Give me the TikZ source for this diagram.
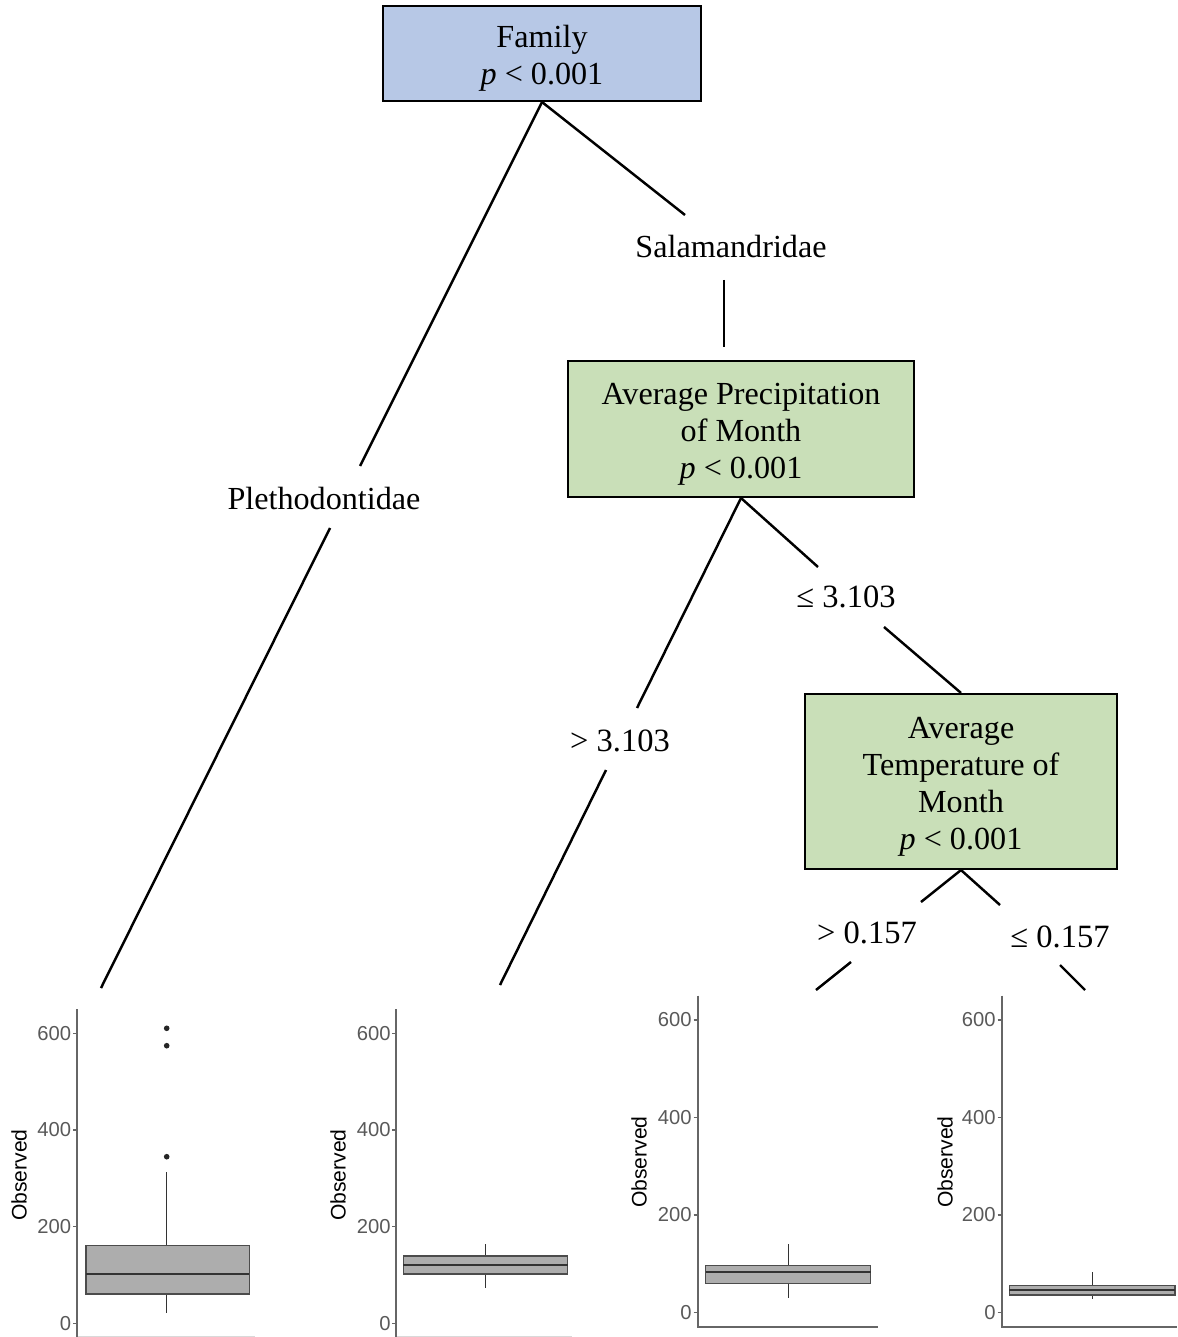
\documentclass[tikz,border=0pt]{standalone}
\usepackage{fontspec}
\setmainfont{Liberation Serif}
\setsansfont{Liberation Sans}
\definecolor{famblue}{HTML}{B7C8E6}
\definecolor{nodegreen}{HTML}{C9DFB8}
\newcommand{\mytopgap}{\rule{0pt}{18.5pt}}
\begin{document}
\begin{tikzpicture}[x=0.02cm,y=-0.02cm,
  treebox/.style={draw=black,line width=1.2pt,align=center,font=\fontsize{18.3}{21}\selectfont,inner sep=0pt},
  edgelab/.style={font=\fontsize{18.5}{22}\selectfont,inner sep=1pt},
  famlab/.style={font=\fontsize{18.3}{21}\selectfont,inner sep=1pt},
  branch/.style={line width=1.4pt,black},
  axisln/.style={draw=black!60,line width=1.1pt},
  tickln/.style={draw=black!60,line width=0.8pt},
  ticklab/.style={font=\sffamily\fontsize{11.5}{13}\selectfont,text=black!65,anchor=east,inner sep=0pt},
  ylab/.style={font=\sffamily\fontsize{12}{14}\selectfont,rotate=90,inner sep=0pt},
  bxfill/.style={fill=black!32,draw=black!70,line width=0.8pt},
  medln/.style={draw=black!80,line width=1.3pt},
  whisk/.style={draw=black!80,line width=0.7pt},
  outl/.style={fill=black!85}]
\useasboundingbox (0,0) rectangle (1177,1337);

% tree nodes
\node[treebox,fill=famblue,minimum width=6.36cm,minimum height=1.9cm] (fam) at (542,53.5) {\mytopgap Family\\\textit{p} < 0.001};
\node[treebox,fill=nodegreen,minimum width=6.92cm,minimum height=2.72cm] (pre) at (741,429) {\mytopgap Average Precipitation\\of Month\\\textit{p} < 0.001};
\node[treebox,fill=nodegreen,minimum width=6.24cm,minimum height=3.5cm] (tmp) at (961,781.5) {\mytopgap Average\\Temperature of\\Month\\\textit{p} < 0.001};

% edge labels
\node[famlab] (pleth) at (324,499) {Plethodontidae};
\node[famlab] (salam) at (731,247) {Salamandridae};
\node[edgelab] (gtp) at (620,741) {> 3.103};
\node[edgelab] (lep) at (846,597) {≤ 3.103};
\node[edgelab] (gtt) at (867,933) {> 0.157};
\node[edgelab] (let) at (1060,937) {≤ 0.157};

% connector gap coordinates
\coordinate (a1) at (360,466); \coordinate (a2) at (330,528); \coordinate (p1top) at (101,988);
\coordinate (b1) at (685,215); \coordinate (b2) at (724,280); \coordinate (b3) at (724,347);
\coordinate (c1) at (637,708); \coordinate (c2) at (606,770); \coordinate (p2top) at (500,985);
\coordinate (d1) at (818,567); \coordinate (d2) at (884,627);
\coordinate (e1) at (921,902); \coordinate (e2) at (851,962); \coordinate (p3top) at (816,990);
\coordinate (f1) at (1000,905); \coordinate (f2) at (1060,965); \coordinate (p4top) at (1085,990);

\draw[branch] (fam.south) -- (a1);
\draw[branch] (a2) -- (p1top);
\draw[branch] (fam.south) -- (b1);
\draw[branch] (b2) -- (b3);
\draw[branch] (pre.south) -- (c1);
\draw[branch] (c2) -- (p2top);
\draw[branch] (pre.south) -- (d1);
\draw[branch] (d2) -- (tmp.north);
\draw[branch] (tmp.south) -- (e1);
\draw[branch] (e2) -- (p3top);
\draw[branch] (tmp.south) -- (f1);
\draw[branch] (f2) -- (p4top);

% ---------- plot 1 ----------
\draw[black!15,line width=0.6pt] (77,1336.5) -- (255,1336.5);
\draw[axisln] (77,1009) -- (77,1337);
\foreach \yy/\lab in {1033.2/600,1130/400,1226.7/200,1323.3/0}{
  \draw[tickln] (73,\yy) -- (77,\yy);
  \node[ticklab] at (71.5,\yy) {\lab};}
\node[ylab] (yl1) at (19,1175) {Observed};
\draw[whisk] (166.7,1172) -- (166.7,1245.7);
\draw[whisk] (166.7,1294) -- (166.7,1312.7);
\draw[bxfill] (86,1245.7) rectangle (249.3,1294);
\draw[medln] (86,1274.3) -- (249.3,1274.3);
\fill[outl] (166.7,1028.3) circle (1.6pt);
\fill[outl] (166.7,1045.7) circle (1.6pt);
\fill[outl] (166.7,1156.7) circle (1.6pt);

% ---------- plot 2 ----------
\draw[black!15,line width=0.6pt] (396,1336.5) -- (572,1336.5);
\draw[axisln] (396,1009) -- (396,1337);
\foreach \yy/\lab in {1033.2/600,1130/400,1226.7/200,1323.3/0}{
  \draw[tickln] (392,\yy) -- (396,\yy);
  \node[ticklab] at (391,\yy) {\lab};}
\node[ylab] (yl2) at (338,1175) {Observed};
\draw[whisk] (485.7,1244) -- (485.7,1256);
\draw[whisk] (485.7,1274) -- (485.7,1288.3);
\draw[bxfill] (403.3,1256) rectangle (567.7,1274);
\draw[medln] (403.3,1265.3) -- (567.7,1265.3);

% ---------- plot 3 ----------
\draw[axisln] (697.7,995.7) -- (697.7,1327.3) -- (878.3,1327.3);
\foreach \yy/\lab in {1020/600,1117.7/400,1215/200,1312.3/0}{
  \draw[tickln] (693.7,\yy) -- (697.7,\yy);
  \node[ticklab] at (692,\yy) {\lab};}
\node[ylab] (yl3) at (639,1162) {Observed};
\draw[whisk] (788.3,1244) -- (788.3,1265.7);
\draw[whisk] (788.3,1283.7) -- (788.3,1297.7);
\draw[bxfill] (705.7,1265.7) rectangle (870.7,1283.7);
\draw[medln] (705.7,1272.3) -- (870.7,1272.3);

% ---------- plot 4 ----------
\draw[axisln] (1001.7,995.7) -- (1001.7,1327.3) -- (1177,1327.3);
\foreach \yy/\lab in {1020/600,1117.7/400,1215/200,1312.3/0}{
  \draw[tickln] (997.7,\yy) -- (1001.7,\yy);
  \node[ticklab] at (996,\yy) {\lab};}
\node[ylab] (yl4) at (945,1162) {Observed};
\draw[whisk] (1092.3,1272.3) -- (1092.3,1285.3);
\draw[whisk] (1092.3,1295) -- (1092.3,1299);
\draw[bxfill] (1009.3,1285.3) rectangle (1175,1295);
\draw[medln] (1009.3,1290) -- (1175,1290);
\end{tikzpicture}
\end{document}
